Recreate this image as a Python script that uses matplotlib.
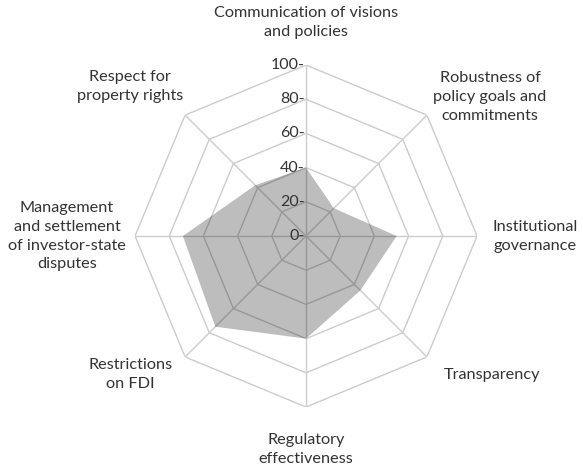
import numpy as np
import matplotlib
matplotlib.use("Agg")
import matplotlib.pyplot as plt

categories = [
    "Communication of visions\nand policies",
    "Robustness of\npolicy goals and\ncommitments",
    "Institutional\ngovernance",
    "Transparency",
    "Regulatory\neffectiveness",
    "Restrictions\non FDI",
    "Management\nand settlement\nof investor-state\ndisputes",
    "Respect for\nproperty rights",
]
values = [40, 23, 53, 45, 60, 75, 72, 42]
rings = [0, 20, 40, 60, 80, 100]
ring_labels = ["0-", "20-", "40-", "60-", "80-", "100-"]

# label placement (angle in degrees clockwise from north, radius in data units)
label_pos = [(0, 124.6), (52.9, 134.9), (90, 134), (126.8, 135.8),
             (180, 125), (231.7, 131), (270, 139.8), (310.4, 135)]

plt.rcParams['font.family'] = ['Lato', 'DejaVu Sans']
text_color = "#333333"

fig = plt.figure(figsize=(5.83, 4.73), dpi=100)
ax = fig.add_axes([0.2316, 0.1395, 0.5866, 0.723], projection='polar')
ax.set_theta_offset(np.pi / 2)
ax.set_theta_direction(-1)
ax.set_ylim(0, 100)
ax.grid(False)
ax.spines['polar'].set_visible(False)
ax.set_xticks([])
ax.set_yticks([])
ax.patch.set_alpha(0)

n = len(categories)
angles = np.arange(n) * 2 * np.pi / n
closed = np.append(angles, angles[0])

grid_color = "#cccccc"
for r in rings[1:]:
    ax.plot(closed, [r] * (n + 1), color=grid_color, lw=1.0, zorder=1)
for a in angles:
    ax.plot([a, a], [0, 100], color=grid_color, lw=1.0, zorder=1)

vals = np.append(values, values[0])
ax.fill(closed, vals, color="black", alpha=0.26, lw=0, zorder=2)

for r, lab in zip(rings, ring_labels):
    ax.annotate(lab, xy=(0, r), xytext=(-1, 0), textcoords='offset points',
                ha='right', va='center', fontsize=11.5, color=text_color, zorder=3)

for lab, (deg, rr) in zip(categories, label_pos):
    ax.text(np.deg2rad(deg), rr, lab, ha='center', va='center', fontsize=11.7,
            color=text_color, linespacing=1.45, clip_on=False)

fig.savefig("out.png", dpi=100)
